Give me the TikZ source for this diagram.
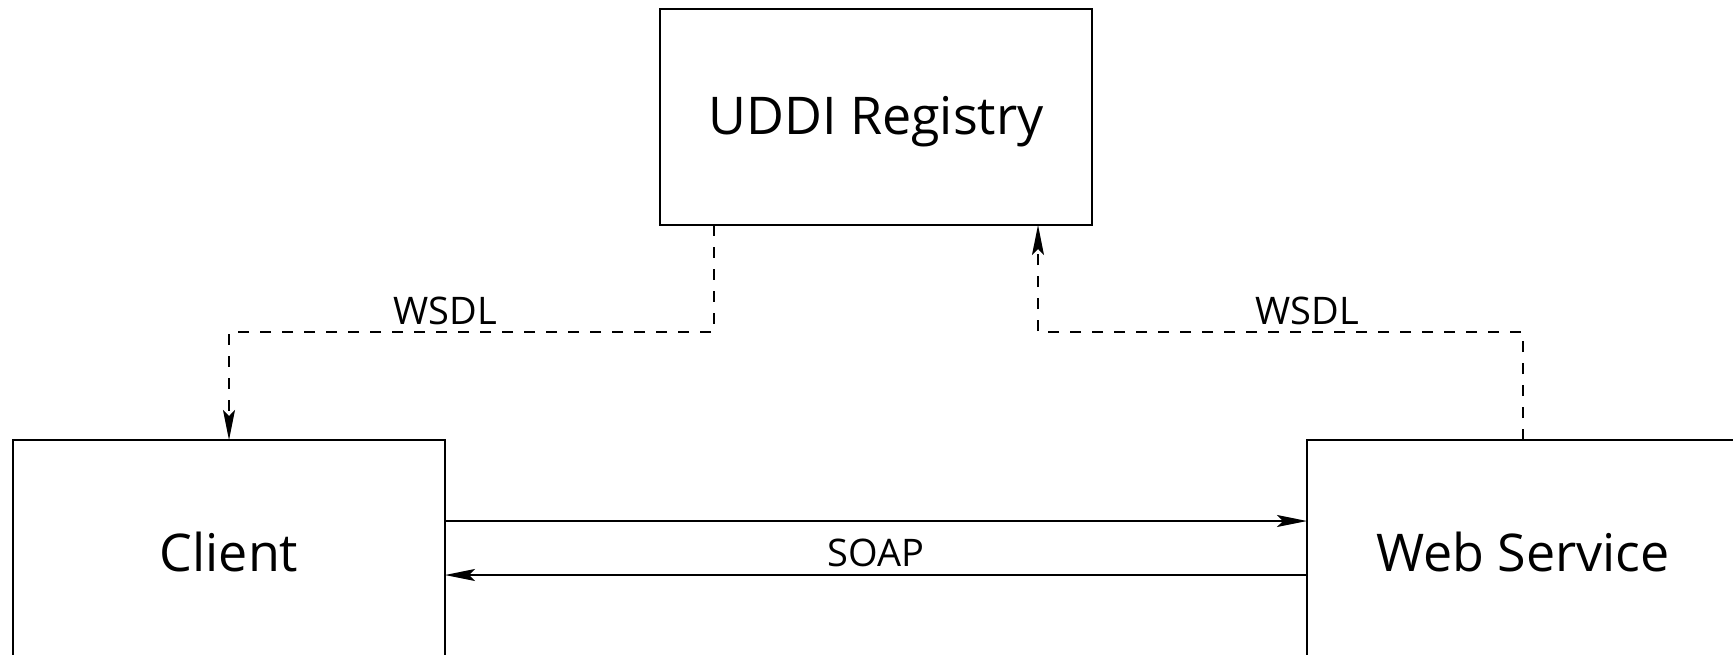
\documentclass[tikz,border=0pt]{standalone}
\usepackage{fontspec}
\setmainfont{Open Sans}
\usetikzlibrary{arrows.meta}

\tikzset{
  sysbox/.style={draw, line width=1.4pt, minimum width=216pt, minimum height=108pt,
    inner sep=0pt, outer sep=0pt, text height=23pt, text depth=0pt,
    font=\fontsize{26}{30}\selectfont},
  lbl/.style={inner sep=0pt, font=\fontsize{19}{22}\selectfont},
  tip/.style={-{Stealth[length=15pt, width=6pt, inset=3pt]}},
  wsdl/.style={tip, line width=0.65pt, dash pattern=on 5.5pt off 5.5pt},
  soap/.style={tip, line width=0.65pt}
}

\begin{document}
\begin{tikzpicture}[x=0.5pt, y=-0.5pt]
  % page frame; the lower boxes run past it
  \useasboundingbox (0,0) rectangle (1733,654);
  \clip (0,0) rectangle (1733,654);

  % the three parties
  \node[sysbox, text height=17pt] (reg) at (876,117) {UDDI Registry};
  \node[sysbox] (client) at (229,548)  {Client};
  \node[sysbox] (web)    at (1523,548) {Web Service};

  % service description: published by the service, fetched by the client
  \draw[wsdl] ([xshift=-81pt]reg.south) -- ++(0,107) -| (client.north);
  \draw[wsdl] (web.north) -- ++(0,-108) -| ([xshift=81pt]reg.south);
  \node[lbl, anchor=base] (wsdlc) at (445,324)  {WSDL};
  \node[lbl, anchor=base] (wsdls) at (1307,324) {WSDL};

  % request and response
  \draw[soap] ([yshift=13.5pt]client.east) -- ([yshift=13.5pt]web.west);
  \draw[soap] ([yshift=-13.5pt]web.west) -- ([yshift=-13.5pt]client.east);
  \node[lbl, anchor=base] (soap) at (876,566) {SOAP};
\end{tikzpicture}
\end{document}
